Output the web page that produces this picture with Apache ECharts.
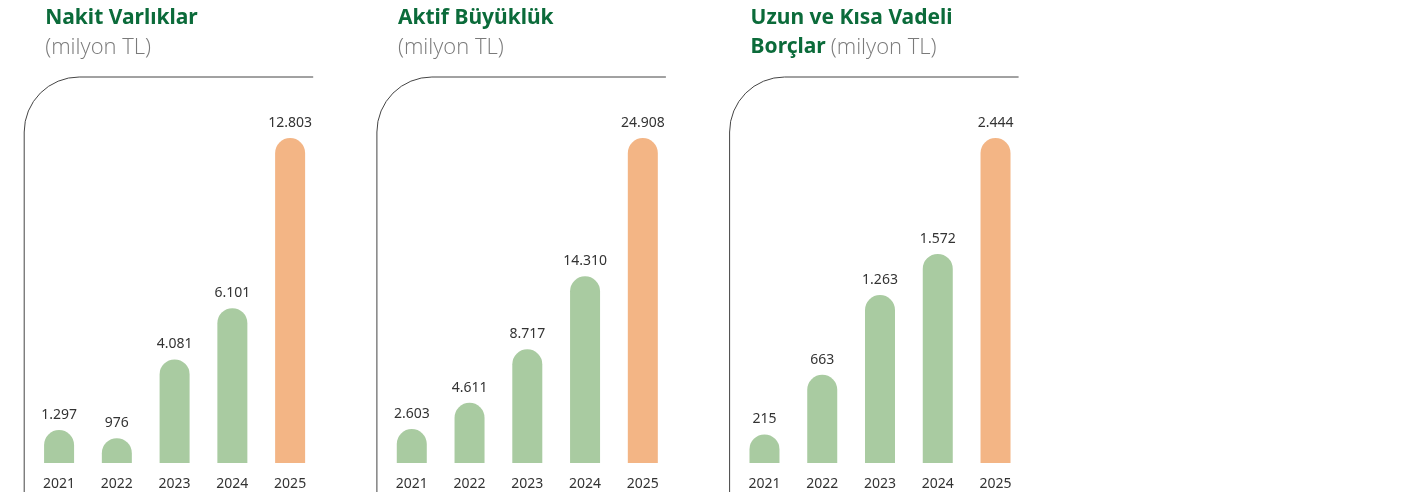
<!DOCTYPE html>
<html>
<head>
<meta charset="utf-8">
<script src="https://cdn.jsdelivr.net/npm/echarts@6/dist/echarts.min.js"></script>
<style>
  html, body { margin: 0; padding: 0; background: #fff; }
  #chart { width: 1405px; height: 492px; }
</style>
</head>
<body>
<div id="chart"></div>
<script>
// yillar ve degerler (milyon TL)
const years = ['2021', '2022', '2023', '2024', '2025'];
const nakitVarliklar = [1297, 976, 4081, 6101, 12803];
const aktifBuyukluk = [2603, 4611, 8717, 14310, 24908];
const borclar = [215, 663, 1263, 1572, 2444];
const barColors = ['#a9cba1', '#a9cba1', '#a9cba1', '#a9cba1', '#f3b585'];

const panels = [
    { title: '{b|Nakit Varlıklar}\n{s|(milyon TL)}', data: nakitVarliklar },
    { title: '{b|Aktif Büyüklük}\n{s|(milyon TL)}', data: aktifBuyukluk },
    { title: '{b|Uzun ve Kısa Vadeli}\n{b|Borçlar} {s|(milyon TL)}', data: borclar }
];

const GREEN = '#0b6b3a';
const panelStep = 352.7;
const gridLeft0 = 30.2;
const gridWidth = 288.8;
const gridTop = 138;
const gridBottom = 29;

// 12803 -> 12.803
const trNum = (v) => String(v).replace(/\B(?=(\d{3})+(?!\d))/g, '.');

const chart = echarts.init(document.getElementById('chart'));

const titles = [], grids = [], xAxes = [], yAxes = [], series = [], graphics = [];

panels.forEach((p, i) => {
    const left = gridLeft0 + i * panelStep;
    titles.push({
        text: p.title,
        left: left + 15,
        top: 4,
        padding: 0,
        textStyle: {
            rich: {
                b: { fontFamily: 'Noto Sans', fontWeight: 'bold', fontSize: 21, color: GREEN, lineHeight: 29 },
                s: { fontFamily: 'Open Sans', fontWeight: 300, fontSize: 22, color: '#7a7a7a', lineHeight: 29 }
            }
        }
    });
    grids.push({ left: left, top: gridTop, width: gridWidth, bottom: gridBottom });
    xAxes.push({
        type: 'category',
        gridIndex: i,
        data: years,
        axisLine: { show: false },
        axisTick: { show: false },
        axisLabel: { color: '#333', fontSize: 14, fontFamily: 'Noto Sans', margin: 14 }
    });
    yAxes.push({
        type: 'value',
        gridIndex: i,
        min: 0,
        max: Math.max(...p.data),
        show: false,
        splitLine: { show: false }
    });
    series.push({
        type: 'bar',
        xAxisIndex: i,
        yAxisIndex: i,
        barWidth: 30,
        data: p.data.map((v, k) => ({ value: v, itemStyle: { color: barColors[k] } })),
        itemStyle: { borderRadius: [15, 15, 0, 0] },
        label: {
            show: true,
            position: 'top',
            distance: 8,
            color: '#333',
            fontSize: 14,
            fontFamily: 'Noto Sans',
            formatter: (d) => trNum(d.value)
        },
        silent: true
    });

    // cercevenin sol ust kosesi: dikey cizgi, yay, yatay cizgi
    const fx = left - 6, fy = 77, r = 55, fx2 = fx + 289;
    const frameStyle = { fill: null, stroke: '#444', lineWidth: 1 };
    graphics.push({
        type: 'polyline',
        shape: { points: [[fx, 492], [fx, fy + r]] },
        style: frameStyle,
        silent: true
    });
    graphics.push({
        type: 'arc',
        shape: { cx: fx + r, cy: fy + r, r: r, startAngle: Math.PI, endAngle: Math.PI * 1.5, clockwise: true },
        style: frameStyle,
        silent: true
    });
    graphics.push({
        type: 'polyline',
        shape: { points: [[fx + r, fy], [fx2, fy]] },
        style: frameStyle,
        silent: true
    });
});

chart.setOption({
    animation: false,
    title: titles,
    grid: grids,
    xAxis: xAxes,
    yAxis: yAxes,
    series: series,
    graphic: graphics
});
</script>
</body>
</html>
